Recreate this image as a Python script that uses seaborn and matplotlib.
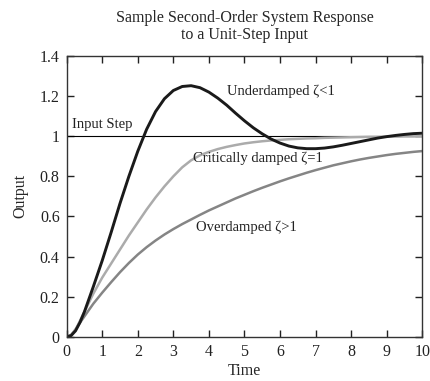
import matplotlib
matplotlib.use("Agg")
import matplotlib.pyplot as plt
import pandas as pd
import seaborn as sns

# values
time = [0, 0.125, 0.25, 0.375, 0.5, 0.75, 1.0, 1.25, 1.5, 1.75, 2.0, 2.25,
        2.5, 2.75, 3.0, 3.25, 3.5, 3.75, 4.0, 4.25, 4.5, 4.75,
        5.0, 5.25, 5.5, 5.75, 6.0, 6.25, 6.5, 6.75, 7.0, 7.25,
        7.5, 7.75, 8.0, 8.25, 8.5, 8.75, 9.0, 9.25, 9.5, 9.75, 10.0]

underdamped = [0, 0.006, 0.03, 0.072, 0.125, 0.25, 0.38, 0.52, 0.665, 0.80, 0.925, 1.035,
               1.123, 1.187, 1.228, 1.248, 1.252, 1.242, 1.22, 1.19, 1.155, 1.115,
               1.077, 1.042, 1.012, 0.986, 0.966, 0.951, 0.942, 0.938, 0.938, 0.941,
               0.947, 0.955, 0.964, 0.973, 0.982, 0.991, 0.998, 1.004, 1.009, 1.013, 1.015]

critical = [0, 0.008, 0.035, 0.08, 0.125, 0.215, 0.295, 0.365, 0.435, 0.505, 0.57, 0.635,
            0.695, 0.75, 0.80, 0.845, 0.88, 0.905, 0.922, 0.936, 0.947, 0.956,
            0.964, 0.97, 0.975, 0.979, 0.982, 0.985, 0.987, 0.989, 0.99, 0.992,
            0.993, 0.994, 0.995, 0.996, 0.997, 0.997, 0.998, 0.998, 0.999, 0.999, 1.0]

overdamped = [0, 0.009, 0.037, 0.07, 0.102, 0.165, 0.22, 0.272, 0.322, 0.368, 0.41, 0.447,
              0.48, 0.51, 0.537, 0.562, 0.585, 0.608, 0.63, 0.65, 0.67, 0.69,
              0.708, 0.726, 0.743, 0.759, 0.775, 0.79, 0.804, 0.818, 0.831, 0.843,
              0.855, 0.865, 0.875, 0.884, 0.892, 0.899, 0.906, 0.912, 0.917, 0.922, 0.926]

step_x = [0, 10]
step_y = [1, 1]

x_ticks = [0, 1, 2, 3, 4, 5, 6, 7, 8, 9, 10]
y_ticks = [0, 0.2, 0.4, 0.6, 0.8, 1.0, 1.2, 1.4]
y_tick_labels = ["0", "0.2", "0.4", "0.6", "0.8", "1", "1.2", "1.4"]

sns.set_style("ticks")
plt.rcParams['font.family'] = ['Liberation Serif', 'DejaVu Serif']

df = pd.DataFrame({'Time': time, 'under': underdamped,
                   'crit': critical, 'over': overdamped})

fig, ax = plt.subplots(figsize=(4.3, 3.81), dpi=100)
fig.subplots_adjust(left=0.155, right=0.982, bottom=0.116, top=0.853)

ax.plot(step_x, step_y, color='black', lw=0.8)
sns.lineplot(data=df, x='Time', y='over', color='#858585', lw=1.8, ax=ax)
sns.lineplot(data=df, x='Time', y='crit', color='#ababab', lw=1.8, ax=ax)
sns.lineplot(data=df, x='Time', y='under', color='#1a1a1a', lw=2.1, ax=ax)

ax.set_xlim(0, 10)
ax.set_ylim(0, 1.4)
ax.set_xticks(x_ticks)
ax.set_yticks(y_ticks)
ax.set_yticklabels(y_tick_labels)
ax.tick_params(direction='in', length=5, width=1, top=True, right=True,
               labelsize=11.5, colors='#222222', pad=5)
for s in ax.spines.values():
    s.set_color('#333333')
    s.set_linewidth(1.0)

ax.set_xlabel('Time', fontsize=11.5, labelpad=2)
ax.set_ylabel('Output', fontsize=11.5, labelpad=8)
ax.set_title('Sample Second-Order System Response\nto a Unit-Step Input',
             fontsize=11.5, pad=12, linespacing=1.15)

lab = dict(fontsize=10.5, color='#222222', va='center')
ax.text(0.15, 1.06, 'Input Step', **lab)
ax.text(4.5, 1.225, 'Underdamped ζ<1', **lab)
ax.text(3.55, 0.89, 'Critically damped ζ=1', **lab)
ax.text(3.65, 0.545, 'Overdamped ζ>1', **lab)

fig.savefig('out.png', dpi=100)
